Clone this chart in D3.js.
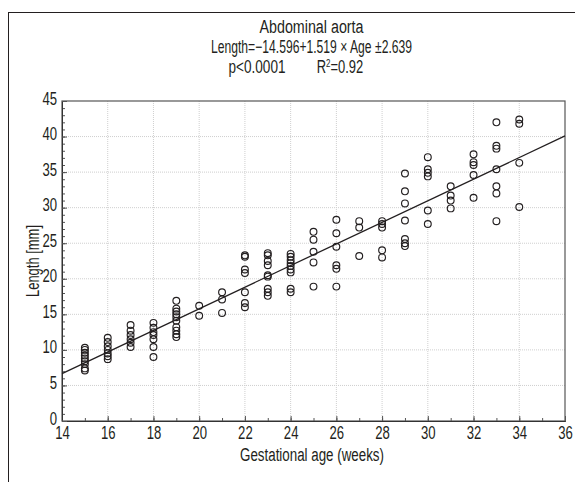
<!DOCTYPE html>
<html>
<head>
<meta charset="utf-8">
<script src="https://cdn.jsdelivr.net/npm/d3@7"></script>
<style>
  body { margin: 0; background: #fff; }
  text { font-family: "Liberation Sans", Arial, sans-serif; fill: #231f20; }
</style>
</head>
<body>
<div id="chart"></div>
<script>
// gestational age (weeks) and measured lengths (mm) for each week
const weeks = [15, 16, 17, 18, 19, 20, 21, 22, 23, 24, 25, 26, 27, 28, 29, 30, 31, 32, 33, 34];
const lengths = [
    [10.3, 10.0, 9.6, 9.2, 8.8, 8.4, 8.0, 7.4, 7.1],
    [11.7, 11.1, 10.5, 10.0, 9.5, 9.1, 8.7],
    [13.5, 12.7, 12.1, 11.5, 11.0, 10.4],
    [13.8, 13.1, 12.5, 12.1, 11.5, 10.4, 9.0],
    [16.9, 15.8, 15.4, 15.0, 14.6, 14.1, 13.2, 12.7, 12.2, 11.8],
    [16.2, 14.8],
    [18.1, 17.1, 15.2],
    [23.3, 23.1, 21.3, 20.8, 18.1, 16.6, 16.0],
    [23.6, 23.3, 22.5, 21.9, 20.5, 20.3, 18.6, 18.1, 17.6],
    [23.5, 23.1, 22.6, 22.2, 21.8, 21.3, 20.9, 18.6, 18.1],
    [26.6, 25.5, 23.8, 22.3, 18.9],
    [28.3, 26.4, 24.5, 21.9, 21.4, 18.9],
    [28.1, 27.2, 23.2],
    [28.1, 27.7, 27.2, 24.0, 23.0],
    [34.8, 32.3, 30.6, 28.2, 25.6, 25.0, 24.6],
    [37.1, 35.4, 34.9, 34.4, 29.6, 27.7],
    [33.0, 31.7, 31.0, 29.9],
    [37.5, 36.4, 36.0, 34.6, 31.4],
    [42.0, 38.7, 38.3, 35.4, 33.0, 32.0, 28.1],
    [42.4, 41.8, 36.3, 30.1]
];
const xTicks = [14, 16, 18, 20, 22, 24, 26, 28, 30, 32, 34, 36];
const yTicks = [0, 5, 10, 15, 20, 25, 30, 35, 40, 45];
const intercept = -14.596, slope = 1.519;
const titleLines = ["Abdominal aorta", "Length=\u221214.596+1.519 \u00d7 Age \u00b12.639"];

const W = 575, H = 482;
const margin = { top: 101, right: 10, bottom: 61, left: 62 },
      width = W - margin.left - margin.right,
      height = H - margin.top - margin.bottom;

// squeeze text to the narrow look of the original font
const narrow = 0.72;

const points = [];
weeks.forEach((w, i) => lengths[i].forEach(v => points.push({ week: w, len: v })));

const root = d3.select("#chart").append("svg")
    .attr("width", W)
    .attr("height", H);

// outer frame
root.append("rect")
    .attr("x", 8.5).attr("y", 12.5)
    .attr("width", 600).attr("height", 520)
    .attr("fill", "none")
    .attr("stroke", "#231f20")
    .attr("stroke-width", 1);

const svg = root.append("g")
    .attr("transform", `translate(${margin.left},${margin.top})`);

const x = d3.scaleLinear().domain([14, 36]).range([0, width]);
const y = d3.scaleLinear().domain([0, 45]).range([height, 0]);

// grid
svg.append("g").selectAll("line")
    .data(xTicks.slice(1, -1))
    .enter().append("line")
    .attr("x1", d => x(d)).attr("x2", d => x(d))
    .attr("y1", 0).attr("y2", height)
    .attr("stroke", "#cfcfcf")
    .attr("stroke-dasharray", "1,1");

svg.append("g").selectAll("line")
    .data(yTicks.slice(1, -1))
    .enter().append("line")
    .attr("x1", 0).attr("x2", width)
    .attr("y1", d => y(d)).attr("y2", d => y(d))
    .attr("stroke", "#cfcfcf")
    .attr("stroke-dasharray", "1,1");

// minor ticks
const xAxisMinor = svg.append("g")
    .attr("transform", `translate(0,${height})`)
    .call(d3.axisTop(x).ticks(22).tickSize(3).tickFormat(""));
const yAxisMinor = svg.append("g")
    .call(d3.axisRight(y).ticks(45).tickSize(3).tickFormat(""));

// major ticks + labels
const xAxis = svg.append("g")
    .attr("transform", `translate(0,${height})`)
    .call(d3.axisBottom(x).tickValues(xTicks).tickSize(0).tickPadding(5));
const yAxis = svg.append("g")
    .call(d3.axisLeft(y).tickValues(yTicks).tickSize(0).tickPadding(5));

svg.append("g")
    .attr("transform", `translate(0,${height})`)
    .call(d3.axisTop(x).tickValues(xTicks).tickSize(5).tickFormat(""));
svg.append("g")
    .call(d3.axisRight(y).tickValues(yTicks).tickSize(5).tickFormat(""));

[xAxis, yAxis].forEach(g => {
    g.selectAll("text")
        .style("font-size", "18px")
        .attr("fill", "#231f20")
        .attr("textLength", d => String(d).length * 7.3)
        .attr("lengthAdjust", "spacingAndGlyphs");
});
yAxis.selectAll("text").attr("dy", "0.17em");
xAxis.selectAll("text").attr("dy", "0.7em");
[xAxis, yAxis, xAxisMinor, yAxisMinor].forEach(g => {
    g.select(".domain").remove();
});
svg.selectAll(".tick line").attr("stroke", "#555");

// plot box
svg.append("rect")
    .attr("width", width).attr("height", height)
    .attr("fill", "none")
    .attr("stroke", "#555")
    .attr("stroke-width", 1.2);

// regression line
svg.append("line")
    .attr("x1", x(14)).attr("y1", y(intercept + slope * 14))
    .attr("x2", x(36)).attr("y2", y(intercept + slope * 36))
    .attr("stroke", "#231f20")
    .attr("stroke-width", 1.3);

// data points
svg.selectAll(".pt")
    .data(points)
    .enter().append("circle")
    .attr("class", "pt")
    .attr("cx", d => x(d.week))
    .attr("cy", d => y(d.len))
    .attr("r", 3.4)
    .attr("fill", "none")
    .attr("stroke", "#231f20")
    .attr("stroke-width", 1.15);

// titles
const cx = margin.left + width / 2 - 2;
const titleWidths = [104, 201];
titleLines.forEach((t, i) => {
    root.append("text")
        .attr("x", cx).attr("y", 33 + i * 19.5)
        .attr("text-anchor", "middle")
        .style("font-size", "18px")
        .attr("textLength", titleWidths[i])
        .attr("lengthAdjust", "spacingAndGlyphs")
        .text(t);
});
root.append("text")
    .attr("x", 257).attr("y", 72.5)
    .attr("text-anchor", "middle")
    .style("font-size", "18px")
    .attr("textLength", 57)
    .attr("lengthAdjust", "spacingAndGlyphs")
    .text("p<0.0001");
const r2 = root.append("text")
    .attr("transform", `translate(340,72.5) scale(${narrow},1)`)
    .attr("text-anchor", "middle")
    .style("font-size", "18px");
r2.append("tspan").text("R");
r2.append("tspan").attr("dy", -6).style("font-size", "11px").text("2");
r2.append("tspan").attr("dy", 6).text("=0.92");

root.append("text")
    .attr("x", 312).attr("y", 461)
    .attr("text-anchor", "middle")
    .style("font-size", "18px")
    .attr("textLength", 144)
    .attr("lengthAdjust", "spacingAndGlyphs")
    .text("Gestational age (weeks)");

root.append("text")
    .attr("transform", `translate(39,${margin.top + height / 2}) rotate(-90)`)
    .attr("text-anchor", "middle")
    .style("font-size", "18px")
    .attr("textLength", 72)
    .attr("lengthAdjust", "spacingAndGlyphs")
    .text("Length [mm]");
</script>
</body>
</html>
